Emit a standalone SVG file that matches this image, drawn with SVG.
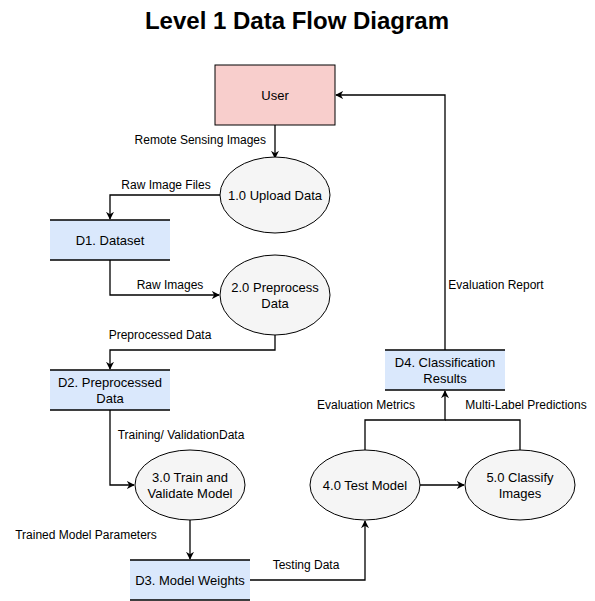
<svg xmlns="http://www.w3.org/2000/svg" width="595" height="601" viewBox="0 0 595 601">
<style>
text{font-family:"Liberation Sans",Arial,sans-serif;font-size:12px;fill:#000}
.t{text-anchor:middle;dominant-baseline:central;font-size:13px}
.title{font-size:24px;font-weight:bold;text-anchor:middle}
.proc{fill:#f5f5f5;stroke:#000;stroke-width:1}
.store{fill:#dae8fc;stroke:none}
.sl{stroke:#000;stroke-width:1.3;fill:none}
.e{stroke:#000;stroke-width:1.3;fill:none;marker-end:url(#a)}
.e2{stroke:#000;stroke-width:1.3;fill:none}
.lbl{dominant-baseline:central}
</style>
<defs>
<marker id="a" viewBox="0 0 10 10" refX="9" refY="5" markerWidth="8" markerHeight="8" markerUnits="userSpaceOnUse" orient="auto">
<path d="M0,0 L10,5 L0,10 L3,5 Z" fill="#000"/>
</marker>
</defs>
<rect width="595" height="601" fill="#fff"/>
<text class="title" x="297" y="29">Level 1 Data Flow Diagram</text>

<g id="connectors">
<path class="e" d="M275,125 V158"/>
<path class="e" d="M220,195 H110 V219"/>
<path class="e" d="M110,260 V295 H219"/>
<path class="e" d="M275,335 V350 H110 V369"/>
<path class="e" d="M110,410 V485 H134"/>
<path class="e" d="M190,520 V559"/>
<path class="e" d="M250,580 H365 V521"/>
<path class="e" d="M420,485 H464"/>
<path class="e" d="M365,450 V420 H445 V391"/>
<path class="e2" d="M520,450 V420 H445"/>
<path class="e" d="M445,350 V95 H336"/>
<text class="lbl" x="266" y="140" text-anchor="end">Remote Sensing Images</text>
<text class="lbl" x="166" y="185" text-anchor="middle">Raw Image Files</text>
<text class="lbl" x="170" y="285" text-anchor="middle">Raw Images</text>
<text class="lbl" x="160" y="335" text-anchor="middle">Preprocessed Data</text>
<text class="lbl" x="181" y="435" text-anchor="middle">Training/ ValidationData</text>
<text class="lbl" x="86" y="535" text-anchor="middle">Trained Model Parameters</text>
<text class="lbl" x="306" y="565" text-anchor="middle">Testing Data</text>
<text class="lbl" x="366" y="405" text-anchor="middle">Evaluation Metrics</text>
<text class="lbl" x="526" y="405" text-anchor="middle">Multi-Label Predictions</text>
<text class="lbl" x="496" y="285" text-anchor="middle">Evaluation Report</text>
</g>

<g id="user">
<rect x="215" y="65" width="120" height="60" fill="#f8cecc" stroke="#000"/>
<text class="t" x="275" y="95">User</text>
</g>
<g id="p1">
<ellipse class="proc" cx="275" cy="195" rx="55" ry="38"/>
<text class="t" x="275" y="195">1.0 Upload Data</text>
</g>
<g id="d1">
<rect class="store" x="50" y="220" width="120" height="40"/>
<path class="sl" d="M50,220 H170 M50,260 H170"/>
<text class="t" x="110" y="240">D1. Dataset</text>
</g>
<g id="p2">
<ellipse class="proc" cx="275" cy="295" rx="55" ry="40"/>
<text class="t" x="275" y="287">2.0 Preprocess</text>
<text class="t" x="275" y="303">Data</text>
</g>
<g id="d2">
<rect class="store" x="50" y="370" width="120" height="40"/>
<path class="sl" d="M50,370 H170 M50,410 H170"/>
<text class="t" x="110" y="382">D2. Preprocessed</text>
<text class="t" x="110" y="398">Data</text>
</g>
<g id="p3">
<ellipse class="proc" cx="190" cy="485" rx="55" ry="35"/>
<text class="t" x="190" y="477">3.0 Train and</text>
<text class="t" x="190" y="493">Validate Model</text>
</g>
<g id="d3">
<rect class="store" x="130" y="560" width="120" height="40"/>
<path class="sl" d="M130,560 H250 M130,600 H250"/>
<text class="t" x="190" y="580">D3. Model Weights</text>
</g>
<g id="p4">
<ellipse class="proc" cx="365" cy="485" rx="55" ry="35"/>
<text class="t" x="365" y="485">4.0 Test Model</text>
</g>
<g id="p5">
<ellipse class="proc" cx="520" cy="485" rx="55" ry="35"/>
<text class="t" x="520" y="477">5.0 Classify</text>
<text class="t" x="520" y="493">Images</text>
</g>
<g id="d4">
<rect class="store" x="385" y="350" width="120" height="40"/>
<path class="sl" d="M385,350 H505 M385,390 H505"/>
<text class="t" x="445" y="362">D4. Classification</text>
<text class="t" x="445" y="378">Results</text>
</g>
</svg>
